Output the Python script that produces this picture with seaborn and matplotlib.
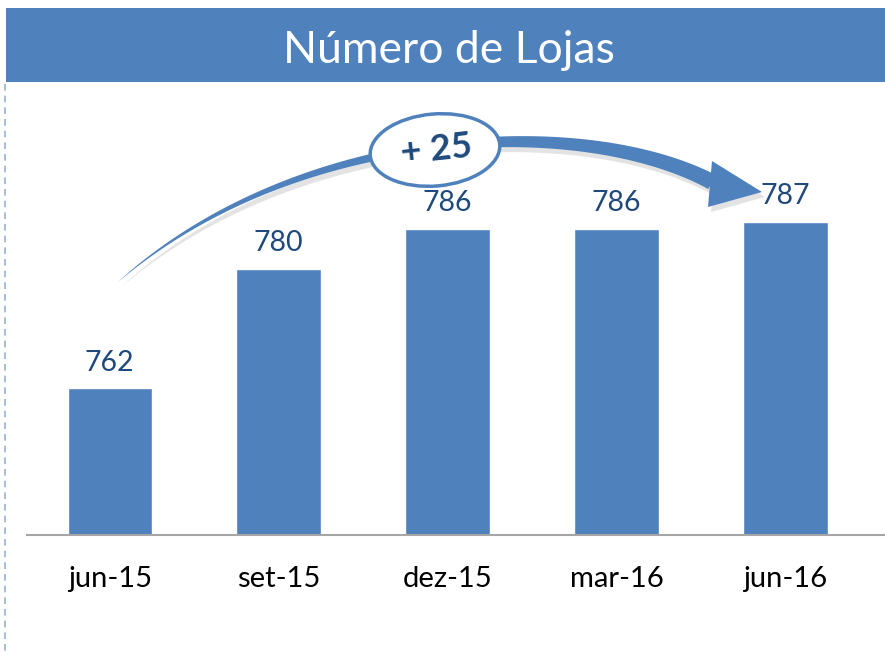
import numpy as np
import matplotlib
matplotlib.use('Agg')
import matplotlib.pyplot as plt
import matplotlib.transforms as mtransforms
from matplotlib.patches import Polygon, Ellipse, Rectangle
from matplotlib.lines import Line2D
import seaborn as sns
import pandas as pd

# ---- data ----
categories = ['jun-15', 'set-15', 'dez-15', 'mar-16', 'jun-16']
lojas = [762, 780, 786, 786, 787]
title = 'Número de Lojas'
growth_label = '+ 25'

BLUE = '#4F81BD'
DARK = '#1F497D'

sns.set_style('white')
plt.rcParams['font.family'] = ['Lato', 'DejaVu Sans']

W, H = 885, 652
fig = plt.figure(figsize=(W / 100, H / 100), dpi=100)
# pixel transform: origin top-left, y downward
pix = mtransforms.Affine2D().scale(1 / W, -1 / H).translate(0, 1) + fig.transFigure


def fx(px):
    return px / W


def fy(py):
    return 1 - py / H


ax = fig.add_axes([fx(27), fy(535), fx(885) - fx(27), fy(82) - fy(535)])
ax.patch.set_alpha(0)
df = pd.DataFrame({'periodo': categories, 'lojas': lojas})
sns.barplot(data=df, x='periodo', y='lojas', color=BLUE, saturation=1,
            width=0.5, ax=ax)
ax.set_ylim(740, 808)
ax.set_xlim(-0.49, 4.59)
ax.bar_label(ax.containers[0], labels=[str(v) for v in lojas], padding=9,
             fontsize=20.5, color=DARK)
ax.set_yticks([])
ax.set_xlabel('')
ax.set_ylabel('')
ax.tick_params(axis='x', length=0, pad=22, labelsize=21, labelcolor='black')
for s in ['left', 'right', 'top']:
    ax.spines[s].set_visible(False)
ax.spines['bottom'].set_color('#A6A6A6')
ax.spines['bottom'].set_linewidth(1.5)

# ---- banner ----
fig.add_artist(Rectangle((6, 8), 879, 74, transform=pix, facecolor=BLUE,
                         edgecolor='none', zorder=1))
fig.text(fx(449), fy(63), title, ha='center', va='baseline', color='white',
         fontsize=32, zorder=2)

# ---- dashed left line ----
fig.add_artist(Line2D([5, 5], [84, 652], transform=pix, color='#95B3D7',
                      lw=1.2, ls=(0, (4, 3)), zorder=1))

# ---- curved growth arrow ----
P = np.array([[118, 282], [298, 124], [582, 113], [712, 182]], float)
t = np.linspace(0, 1, 200)[:, None]
B = ((1 - t) ** 3 * P[0] + 3 * (1 - t) ** 2 * t * P[1]
     + 3 * (1 - t) * t ** 2 * P[2] + t ** 3 * P[3])
dB = (3 * (1 - t) ** 2 * (P[1] - P[0]) + 6 * (1 - t) * t * (P[2] - P[1])
      + 3 * t ** 2 * (P[3] - P[2]))
nrm = np.stack([-dB[:, 1], dB[:, 0]], 1)
nrm /= np.linalg.norm(nrm, axis=1, keepdims=True)
hw = 16 * t[:, 0] ** 0.8 / 2
shaft = np.vstack([B + nrm * hw[:, None], (B - nrm * hw[:, None])[::-1]])
head = np.array([[712, 161], [762, 192], [708, 207]], float)

for poly in (shaft, head):
    fig.add_artist(Polygon(poly + np.array([3, 5]), closed=True, transform=pix,
                           facecolor='#808080', alpha=0.22, edgecolor='none',
                           zorder=4))
for poly in (shaft, head):
    fig.add_artist(Polygon(poly, closed=True, transform=pix, facecolor=BLUE,
                           edgecolor='none', zorder=5))

fig.add_artist(Ellipse((435, 150), 130, 72, angle=-5, transform=pix,
                       facecolor='white', edgecolor=BLUE, lw=2.5, zorder=6))
fig.text(fx(436), fy(150), growth_label, ha='center', va='center',
         fontweight='bold', fontsize=26, color=DARK, rotation=6, zorder=7)

fig.savefig('out.png', dpi=100)
